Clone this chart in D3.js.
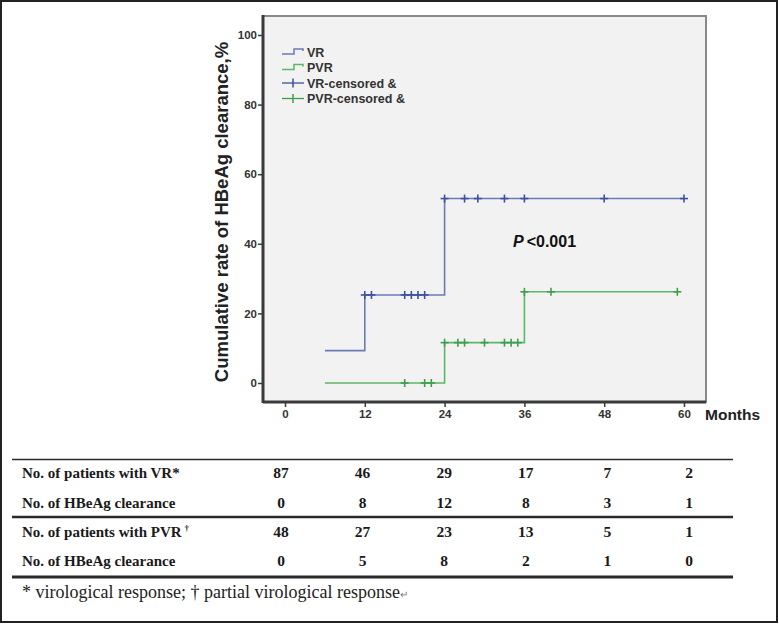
<!DOCTYPE html>
<html><head><meta charset="utf-8">
<script src="https://cdn.jsdelivr.net/npm/d3@7"></script>
<style>
html,body{margin:0;padding:0;background:#fff;}
svg{display:block;}
</style></head>
<body>
<svg id="chart" width="779" height="624"></svg>
<script>
// ---- data ----
const monthTicks = [0, 12, 24, 36, 48, 60];
const rateTicks = [0, 20, 40, 60, 80, 100];
const vrTimes = [6, 12, 24, 60];
const vrRates = [9.3, 25.3, 53.0, 53.0];
const vrCensorTimes = [12, 13, 18, 19, 20, 21, 24, 27, 29, 33, 36, 48, 60];
const pvrTimes = [6, 24, 36, 59];
const pvrRates = [0, 11.6, 26.2, 26.2];
const pvrCensorTimes = [18, 21, 22, 24, 26, 27, 30, 33, 34, 35, 36, 40, 59];
const legendLabels = ["VR", "PVR", "VR-censored &", "PVR-censored &"];
const rowLabels = ["No. of patients with VR*", "No. of HBeAg clearance", "No. of patients with PVR", "No. of HBeAg clearance"];
const vrAtRisk = [87, 46, 29, 17, 7, 2];
const vrCleared = [0, 8, 12, 8, 3, 1];
const pvrAtRisk = [48, 27, 23, 13, 5, 1];
const pvrCleared = [0, 5, 8, 2, 1, 0];
const footnote = "* virological response; \u2020 partial virological response";

// ---- styles ----
const blueLine = "#6a7bb8", blueMark = "#3d4f9e";
const greenLine = "#5db768", greenMark = "#3f9d4c";
const sans = "'Liberation Sans', Arial, sans-serif";
const serif = "'Liberation Serif', 'Times New Roman', serif";

const svg = d3.select("#chart");
// outer frame
svg.append("rect").attr("x", 1).attr("y", 1).attr("width", 776).attr("height", 621)
  .attr("fill", "#fff").attr("stroke", "#222").attr("stroke-width", 2);

const box = {l: 263, r: 706, t: 16, b: 402};
const x = d3.scaleLinear().domain([0, 60]).range([285, 684]);
const y = d3.scaleLinear().domain([0, 100]).range([383, 35]);

// plot background
svg.append("rect").attr("x", box.l).attr("y", box.t).attr("width", box.r - box.l).attr("height", box.b - box.t)
  .attr("fill", "#f2f2f2").attr("stroke", "#8a8a8a").attr("stroke-width", 2);

// axes
const yAxis = d3.axisLeft(y).tickValues(rateTicks).tickSize(5).tickPadding(1);
const gy = svg.append("g").attr("transform", `translate(${box.l},0)`).call(yAxis);
gy.select(".domain").remove();
gy.append("line").attr("x1", 0).attr("x2", 0).attr("y1", box.t - 1).attr("y2", box.b + 1)
  .attr("stroke", "#3a3a3a").attr("stroke-width", 3);
const xAxis = d3.axisBottom(x).tickValues(monthTicks).tickSize(5).tickPadding(3);
const gx = svg.append("g").attr("transform", `translate(0,${box.b})`).call(xAxis);
gx.select(".domain").remove();
gx.append("line").attr("x1", box.l).attr("x2", box.r).attr("y1", 0).attr("y2", 0)
  .attr("stroke", "#3a3a3a").attr("stroke-width", 3);
[gx, gy].forEach(g => {
  g.selectAll(".tick line").attr("stroke", "#3a3a3a").attr("stroke-width", 1.5);
  g.selectAll(".tick text").attr("fill", "#333").style("font-family", sans)
    .style("font-size", "11.5px").style("font-weight", "bold");
});

svg.append("text").attr("x", 705).attr("y", 420).text("Months")
  .style("font-family", sans).style("font-size", "15.5px").style("font-weight", "bold").attr("fill", "#222");

svg.append("text").attr("transform", `translate(228,212) rotate(-90)`)
  .attr("text-anchor", "middle").text("Cumulative rate of HBeAg clearance,%")
  .style("font-family", sans).style("font-size", "18.5px").style("font-weight", "bold").attr("fill", "#222");

// step curves
function stepValue(times, rates, t) {
  let v = rates[0];
  for (let i = 0; i < times.length; i++) if (times[i] <= t) v = rates[i];
  return v;
}
const stepLine = d3.line().x(d => x(d[0])).y(d => y(d[1])).curve(d3.curveStepAfter);
function drawSeries(times, rates, censor, lineCol, markCol) {
  svg.append("path").datum(times.map((t, i) => [t, rates[i]])).attr("d", stepLine)
    .attr("fill", "none").attr("stroke", lineCol).attr("stroke-width", 1.6);
  const g = svg.append("g");
  censor.forEach(t => {
    const cx = x(t), cy = y(stepValue(times, rates, t));
    g.append("line").attr("x1", cx).attr("x2", cx).attr("y1", cy - 4).attr("y2", cy + 4)
      .attr("stroke", markCol).attr("stroke-width", 1.6);
    g.append("line").attr("x1", cx - 4).attr("x2", cx + 4).attr("y1", cy).attr("y2", cy)
      .attr("stroke", markCol).attr("stroke-width", 1.6);
  });
}
drawSeries(vrTimes, vrRates, vrCensorTimes, blueLine, blueMark);
drawSeries(pvrTimes, pvrRates, pvrCensorTimes, greenLine, greenMark);

// P value
const pt = svg.append("text").attr("x", 513).attr("y", 247)
  .style("font-family", sans).style("font-size", "16px").style("font-weight", "bold").attr("fill", "#111");
pt.append("tspan").style("font-style", "italic").text("P");
pt.append("tspan").attr("dx", 3).text("<0.001");

// legend
const legY = [52, 67.5, 83, 98.5];
const legCols = [blueLine, greenLine, blueMark, greenMark];
legendLabels.forEach((lab, i) => {
  const yy = legY[i];
  if (i < 2) {
    svg.append("path").attr("d", `M282,${yy + 2}H294V${yy - 3}H303V${yy - 1}`)
      .attr("fill", "none").attr("stroke", legCols[i]).attr("stroke-width", 1.5);
  } else {
    svg.append("line").attr("x1", 282).attr("x2", 304).attr("y1", yy).attr("y2", yy)
      .attr("stroke", legCols[i]).attr("stroke-width", 1.3);
    svg.append("line").attr("x1", 293).attr("x2", 293).attr("y1", yy - 4.5).attr("y2", yy + 4.5)
      .attr("stroke", legCols[i]).attr("stroke-width", 1.5);
  }
  svg.append("text").attr("x", 307).attr("y", yy + 4.5).text(lab)
    .style("font-family", sans).style("font-size", "12.5px").style("font-weight", "bold").attr("fill", "#333");
});

// table
const colX = d3.scaleLinear().domain([0, 60]).range([281, 689]);
const rowsY = [473, 502.5, 531.5, 560.5];
const rowVals = [vrAtRisk, vrCleared, pvrAtRisk, pvrCleared];
const rules = [{y: 459.5, w: 1.5}, {y: 517, w: 2.5}, {y: 577, w: 3}];
rules.forEach(r => svg.append("line").attr("x1", 12).attr("x2", 733).attr("y1", r.y).attr("y2", r.y)
  .attr("stroke", "#2a2a2a").attr("stroke-width", r.w));
rowLabels.forEach((lab, i) => {
  const t = svg.append("text").attr("x", 22).attr("y", rowsY[i] + 5)
    .style("font-family", serif).style("font-size", "15px").style("font-weight", "bold").attr("fill", "#1a1a1a")
    .text(lab);
  if (i === 2) t.append("tspan").attr("dx", 3).attr("dy", -6).style("font-size", "9px").text("\u2020");
  rowVals[i].forEach((v, j) => {
    svg.append("text").attr("x", colX(monthTicks[j])).attr("y", rowsY[i] + 5).attr("text-anchor", "middle")
      .style("font-family", serif).style("font-size", "15.5px").style("font-weight", "bold").attr("fill", "#1a1a1a")
      .text(v);
  });
});
const fn = svg.append("text").attr("x", 22).attr("y", 598)
  .style("font-family", serif).style("font-size", "18px").attr("fill", "#222").text(footnote);
fn.append("tspan").style("font-size", "10px").attr("fill", "#777").text("\u21B5");
</script>
</body></html>
